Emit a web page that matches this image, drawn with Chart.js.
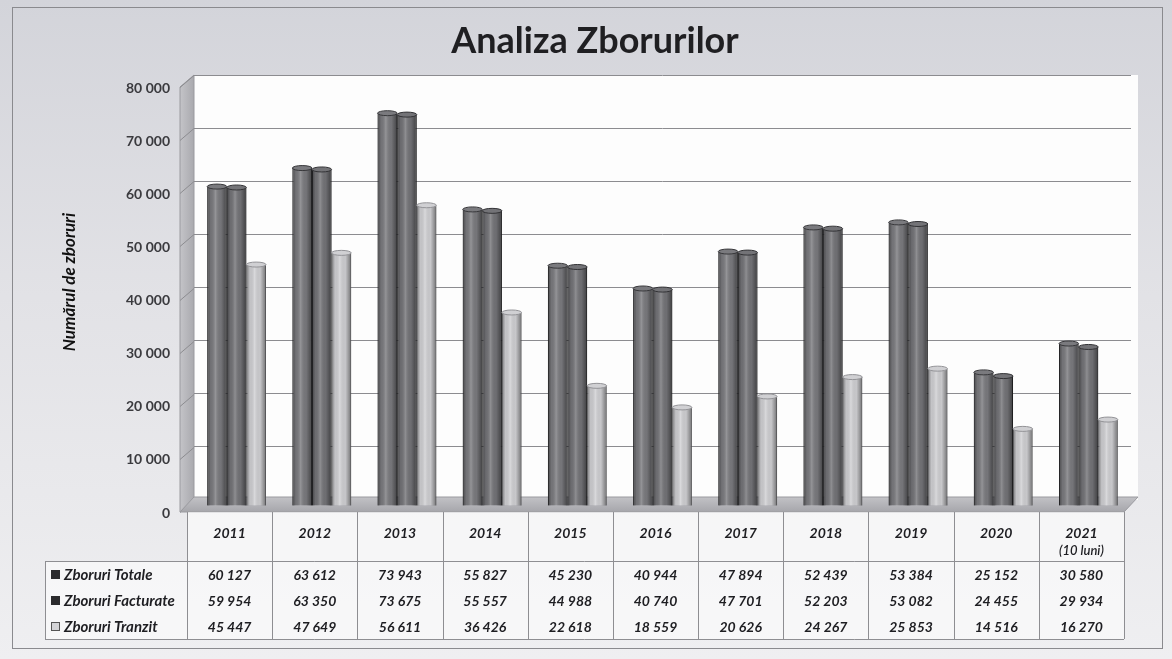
<!DOCTYPE html>
<html lang="ro">

<head>
    <meta charset="UTF-8">
    <title>Analiza Zborurilor</title>
    <script src="https://cdn.jsdelivr.net/npm/chart.js"></script>
    <style>
        html, body {
            margin: 0;
            padding: 0;
            background: #e6e6ea;
        }

        .wrap {
            position: relative;
            width: 1172px;
            height: 659px;
        }
    </style>
</head>

<body>
    <div class="wrap">
        <canvas id="flightsChart" width="1172" height="659"></canvas>
    </div>

    <script>
        const categories = ['2011', '2012', '2013', '2014', '2015', '2016', '2017', '2018', '2019', '2020', '2021'];
        const categoryNotes = ['', '', '', '', '', '', '', '', '', '', '(10 luni)'];
        const seriesNames = ['Zboruri Totale', 'Zboruri Facturate', 'Zboruri Tranzit'];
        const zboruriTotale = [60127, 63612, 73943, 55827, 45230, 40944, 47894, 52439, 53384, 25152, 30580];
        const zboruriFacturate = [59954, 63350, 73675, 55557, 44988, 40740, 47701, 52203, 53082, 24455, 29934];
        const zboruriTranzit = [45447, 47649, 56611, 36426, 22618, 18559, 20626, 24267, 25853, 14516, 16270];
        const yTicks = [0, 10000, 20000, 30000, 40000, 50000, 60000, 70000, 80000];

        const seriesColors = ['#7a7a7e', '#737377', '#d0d0d3'];
        const seriesEdges = ['#38383b', '#333336', '#939397'];

        const FONT = "Lato, 'Open Sans', 'Liberation Sans', sans-serif";
        const DEPTH_X = -14; // 3D depth of wall / floor
        const DEPTH_Y = 12;
        const BAR_DROP = 6;  // bars sit half way into the depth
        const TABLE_SHIFT = -7;

        function fmt(v) {
            return String(v).replace(/\B(?=(\d{3})+(?!\d))/g, ' ');
        }

        // page background, frame, title, back wall, floor
        const backdropPlugin = {
            id: 'backdrop',
            beforeDraw(chart) {
                const { ctx, chartArea: a } = chart;
                ctx.save();
                const bg = ctx.createLinearGradient(0, 0, 0, chart.height);
                bg.addColorStop(0, '#d3d4da');
                bg.addColorStop(0.45, '#e2e2e6');
                bg.addColorStop(1, '#efeff1');
                ctx.fillStyle = bg;
                ctx.fillRect(0, 0, chart.width, chart.height);

                ctx.strokeStyle = '#8a8a8e';
                ctx.lineWidth = 1;
                ctx.strokeRect(12.5, 7.5, 1150, 641);

                ctx.fillStyle = '#1f1f22';
                ctx.font = 'bold 36px ' + FONT;
                ctx.textAlign = 'center';
                ctx.textBaseline = 'middle';
                ctx.fillText('Analiza Zborurilor', 595, 41);

                // plot area
                ctx.fillStyle = '#fdfdfd';
                ctx.fillRect(a.left, a.top, a.right - a.left + 7, a.bottom - a.top);

                // left wall
                const wall = ctx.createLinearGradient(a.left + DEPTH_X, 0, a.left, 0);
                wall.addColorStop(0, '#c4c4c8');
                wall.addColorStop(1, '#a9a9ae');
                ctx.fillStyle = wall;
                ctx.beginPath();
                ctx.moveTo(a.left, a.top);
                ctx.lineTo(a.left, a.bottom);
                ctx.lineTo(a.left + DEPTH_X, a.bottom + DEPTH_Y);
                ctx.lineTo(a.left + DEPTH_X, a.top + DEPTH_Y);
                ctx.closePath();
                ctx.fill();
                ctx.strokeStyle = '#9a9a9f';
                ctx.stroke();
                ctx.restore();
            },
            beforeDatasetsDraw(chart) {
                const { ctx, chartArea: a, scales: { y } } = chart;
                ctx.save();
                // gridlines continued on the wall
                ctx.strokeStyle = '#8c8c90';
                ctx.lineWidth = 1;
                y.ticks.forEach(t => {
                    const py = Math.round(y.getPixelForValue(t.value)) + 0.5;
                    ctx.beginPath();
                    ctx.moveTo(a.left, py);
                    ctx.lineTo(a.left + DEPTH_X, py + DEPTH_Y);
                    ctx.stroke();
                });
                // floor
                const fl = ctx.createLinearGradient(0, a.bottom - 3, 0, a.bottom + DEPTH_Y);
                fl.addColorStop(0, '#c2c2c6');
                fl.addColorStop(1, '#a6a6ab');
                ctx.fillStyle = fl;
                ctx.beginPath();
                ctx.moveTo(a.left, a.bottom - 3);
                ctx.lineTo(a.right + 7, a.bottom - 3);
                ctx.lineTo(a.right + 7 + DEPTH_X, a.bottom + DEPTH_Y);
                ctx.lineTo(a.left + DEPTH_X, a.bottom + DEPTH_Y);
                ctx.closePath();
                ctx.fill();
                ctx.strokeStyle = '#9a9a9f';
                ctx.stroke();
                ctx.restore();
                // bars are drawn a little forward (lower) in the 3D box
                ctx.save();
                ctx.translate(0, BAR_DROP);
            },
            afterDatasetsDraw(chart) {
                chart.ctx.restore();
            }
        };

        // rounded cylinder shading over the bars
        const cylinderPlugin = {
            id: 'cylinder',
            afterDatasetsDraw(chart) {
                const { ctx } = chart;
                ctx.save();
                chart.data.datasets.forEach((ds, di) => {
                    chart.getDatasetMeta(di).data.forEach(bar => {
                        const w = bar.width;
                        const left = bar.x - w / 2;
                        const g = ctx.createLinearGradient(left, 0, left + w, 0);
                        g.addColorStop(0, 'rgba(0,0,0,0.42)');
                        g.addColorStop(0.18, 'rgba(0,0,0,0.06)');
                        g.addColorStop(0.42, 'rgba(255,255,255,0.20)');
                        g.addColorStop(0.7, 'rgba(0,0,0,0.04)');
                        g.addColorStop(1, 'rgba(0,0,0,0.45)');
                        ctx.fillStyle = g;
                        ctx.fillRect(left, bar.y + BAR_DROP, w, bar.base - bar.y);
                        ctx.beginPath();
                        ctx.ellipse(bar.x, bar.y + BAR_DROP, w / 2, 2.5, 0, 0, Math.PI * 2);
                        ctx.fillStyle = seriesColors[di];
                        ctx.fill();
                        ctx.strokeStyle = seriesEdges[di];
                        ctx.lineWidth = 1;
                        ctx.stroke();
                    });
                });
                ctx.restore();
            }
        };

        // y tick labels (front edge of the wall) + axis title
        const axisTextPlugin = {
            id: 'axisText',
            afterDraw(chart) {
                const { ctx, scales: { y } } = chart;
                ctx.save();
                ctx.fillStyle = '#3a3a3e';
                ctx.font = 'bold 14px ' + FONT;
                ctx.textAlign = 'right';
                ctx.textBaseline = 'middle';
                y.ticks.forEach(t => {
                    ctx.fillText(fmt(t.value), 170, y.getPixelForValue(t.value) + DEPTH_Y + 1);
                });
                ctx.translate(70, 282);
                ctx.rotate(-Math.PI / 2);
                ctx.textAlign = 'center';
                ctx.fillStyle = '#111';
                ctx.font = 'italic bold 17px ' + FONT;
                ctx.fillText('Numărul de zboruri', 0, 0);
                ctx.restore();
            }
        };

        // data table under the plot
        const dataTablePlugin = {
            id: 'dataTable',
            afterDraw(chart) {
                const { ctx, chartArea: a, scales: { x } } = chart;
                const n = categories.length;
                const cw = (x.right - x.left) / n;
                const colLeft = i => x.getPixelForValue(i) - cw / 2 + TABLE_SHIFT;
                const tableLeft = 45;
                const headTop = a.bottom + DEPTH_Y;
                const rowTop = 561;
                const rowH = 26;
                const bottom = rowTop + rowH * 3;
                const right = colLeft(n - 1) + cw;
                const rows = [zboruriTotale, zboruriFacturate, zboruriTranzit];

                ctx.save();
                ctx.fillStyle = 'rgba(255,255,255,0.55)';
                ctx.fillRect(colLeft(0), headTop, right - colLeft(0), rowTop - headTop);
                ctx.fillRect(tableLeft, rowTop, right - tableLeft, bottom - rowTop);

                ctx.strokeStyle = '#8e8e92';
                ctx.lineWidth = 1;
                ctx.beginPath();
                for (let i = 0; i <= n; i++) {
                    const px = Math.round(i < n ? colLeft(i) : right) + 0.5;
                    ctx.moveTo(px, headTop);
                    ctx.lineTo(px, bottom);
                }
                ctx.moveTo(tableLeft + 0.5, rowTop);
                ctx.lineTo(tableLeft + 0.5, bottom);
                ctx.moveTo(tableLeft, rowTop + 0.5);
                ctx.lineTo(right, rowTop + 0.5);
                ctx.moveTo(tableLeft, bottom + 0.5);
                ctx.lineTo(right, bottom + 0.5);
                ctx.stroke();

                ctx.textAlign = 'center';
                ctx.textBaseline = 'middle';
                ctx.fillStyle = '#1e1e22';
                categories.forEach((c, i) => {
                    const cx = colLeft(i) + cw / 2;
                    ctx.font = 'italic bold 14px ' + FONT;
                    ctx.fillText(c, cx, 533);
                    if (categoryNotes[i]) {
                        ctx.font = 'italic 600 13px ' + FONT;
                        ctx.fillText(categoryNotes[i], cx, 551);
                    }
                    ctx.font = 'italic bold 14px ' + FONT;
                    rows.forEach((r, ri) => {
                        ctx.fillText(fmt(r[i]), cx, rowTop + rowH * ri + rowH / 2 + 1);
                    });
                });

                // legend keys
                ctx.textAlign = 'left';
                seriesNames.forEach((s, ri) => {
                    const cy = rowTop + rowH * ri + rowH / 2 + 1;
                    ctx.fillStyle = ri < 2 ? '#2a2a2d' : '#d4d4d7';
                    ctx.fillRect(51, cy - 5, 9, 9);
                    if (ri === 2) {
                        ctx.strokeStyle = '#555';
                        ctx.strokeRect(51.5, cy - 4.5, 8, 8);
                    }
                    ctx.fillStyle = '#1e1e22';
                    ctx.font = 'italic bold 15px ' + FONT;
                    ctx.fillText(s, 64, cy);
                });
                ctx.restore();
            }
        };

        const ctx = document.getElementById('flightsChart').getContext('2d');
        const flightsChart = new Chart(ctx, {
            type: 'bar',
            data: {
                labels: categories,
                datasets: [{
                    label: seriesNames[0],
                    data: zboruriTotale,
                    backgroundColor: seriesColors[0],
                    borderColor: seriesEdges[0],
                    borderWidth: 1
                }, {
                    label: seriesNames[1],
                    data: zboruriFacturate,
                    backgroundColor: seriesColors[1],
                    borderColor: seriesEdges[1],
                    borderWidth: 1
                }, {
                    label: seriesNames[2],
                    data: zboruriTranzit,
                    backgroundColor: seriesColors[2],
                    borderColor: seriesEdges[2],
                    borderWidth: 1
                }]
            },
            options: {
                responsive: false,
                animation: false,
                layout: {
                    padding: { left: 194, right: 41, top: 75, bottom: 159 }
                },
                datasets: {
                    bar: { categoryPercentage: 0.69, barPercentage: 1.0 }
                },
                scales: {
                    x: {
                        display: false
                    },
                    y: {
                        min: yTicks[0],
                        max: yTicks[yTicks.length - 1],
                        afterBuildTicks(scale) {
                            scale.ticks = yTicks.map(v => ({ value: v }));
                        },
                        afterFit(scale) {
                            scale.width = 0;
                        },
                        ticks: { display: false },
                        border: { display: false },
                        grid: { color: '#8c8c90', lineWidth: 1, drawTicks: false }
                    }
                },
                plugins: {
                    legend: { display: false },
                    tooltip: { enabled: false },
                    title: { display: false }
                }
            },
            plugins: [backdropPlugin, cylinderPlugin, axisTextPlugin, dataTablePlugin]
        });
    </script>
</body>

</html>
